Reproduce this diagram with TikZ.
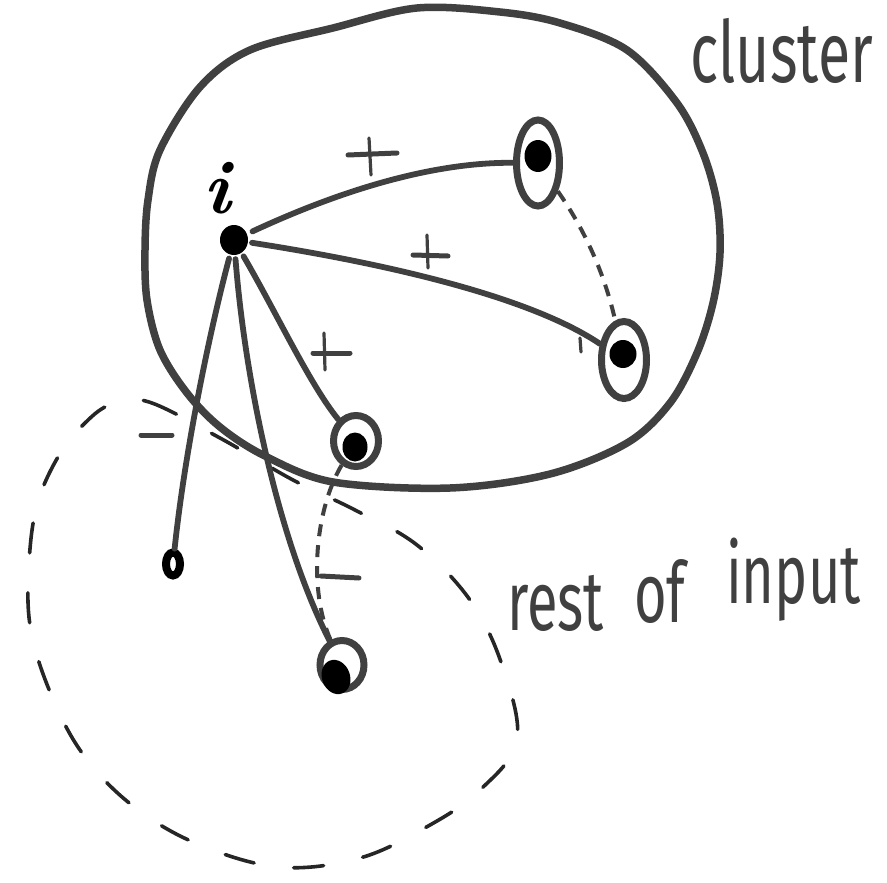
\documentclass[tikz,border=0pt]{standalone}
\usepackage{fontspec}
\newfontfamily\handfont{Fira Sans}
\usetikzlibrary{shapes.geometric}
\definecolor{ink}{gray}{0.25}
\begin{document}
\begin{tikzpicture}[x=1pt,y=-1pt,
  clusterline/.style={draw=ink, line width=7.5pt, line join=round},
  restline/.style={draw=black!85, line width=3.6pt, dash pattern=on 30pt off 40pt, line cap=round},
  edgeline/.style={draw=ink, line width=5.8pt, line cap=round},
  dashedge/.style={draw=ink, line width=4pt, dash pattern=on 12pt off 9pt},
  ringnode/.style={ellipse, draw=ink, line width=7pt, inner sep=0pt, fill=white},
  corenode/.style={ellipse, fill=black, inner sep=0pt},
  signline/.style={draw=ink, line width=5pt, line cap=round},
  thinsign/.style={draw=ink, line width=3.2pt, line cap=round},
  hand/.style={anchor=base west, inner sep=0pt, text=ink}]
\useasboundingbox (0,0) rectangle (887,883);

% rest of input (dashed region)
\draw[restline] plot[smooth cycle, tension=0.6] coordinates {
  (112,404) (149,402) (220,438) (293,480) (355,510) (417,545) (470,600)
  (502,665) (517,740) (480,790) (430,825) (360,858) (278,867) (193,842)
  (128,802) (80,750) (48,687) (30,625) (29,563) (37,505) (58,457) (85,423)};

% cluster
\draw[clusterline] plot[smooth cycle, tension=0.55] coordinates {
  (145,250) (147,300) (160,350) (187,393) (220,427) (265,456) (333,482)
  (450,488) (550,474) (627,443) (670,403) (697,353) (713,303) (720,253)
  (717,203) (703,153) (677,103) (627,50) (560,23) (500,12) (417,8)
  (333,28) (250,50) (200,87) (160,150) (148,200)};

% nodes
\node[corenode, minimum width=28pt, minimum height=30pt] (i) at (234,240) {};
\node[ringnode, minimum width=43pt, minimum height=86pt] (A) at (538,163) {};
\node[ringnode, minimum width=45pt, minimum height=77pt] (B) at (624,360) {};
\node[ringnode, minimum width=45pt, minimum height=51pt] (C) at (356,441) {};
\node[ringnode, minimum width=44pt, minimum height=49pt] (D) at (342,665) {};
\node[ellipse, draw=black, fill=white, line width=8pt, inner sep=0pt,
      minimum width=14pt, minimum height=23pt] (E) at (173,564) {};

% edges from i
\draw[edgeline, shorten <=6pt] (i) .. controls (320,200) and (420,162) .. (A);
\draw[edgeline, shorten <=4pt] (i) .. controls (350,258) and (520,290) .. (B);
\draw[edgeline, shorten <=4pt] (i) .. controls (275,310) and (310,385) .. (C);
\draw[edgeline, shorten <=4pt] (i) .. controls (245,380) and (278,540) .. (D);
\draw[edgeline, shorten <=4pt] (i) .. controls (210,330) and (185,450) .. (E);

% dashed edges
\draw[dashedge] (A) .. controls (585,230) and (605,275) .. (B);
\draw[dashedge] (C) .. controls (315,510) and (308,590) .. (D);

% filled cores on top of the edges
\node[corenode, minimum width=27pt, minimum height=32pt] (Acore) at (538,156) {};
\node[corenode, minimum width=27pt, minimum height=28pt] (Bcore) at (623,354) {};
\node[corenode, minimum width=25pt, minimum height=29pt] (Ccore) at (355,447) {};
\node[corenode, minimum width=28pt, minimum height=35pt, rotate=20] (Dcore) at (336,677) {};

% signs
\coordinate (p1a) at (348,155); \coordinate (p1b) at (397,153);
\coordinate (p1c) at (369,138); \coordinate (p1d) at (371,175);
\draw[signline] (p1a) -- (p1b); \draw[thinsign] (p1c) -- (p1d);
\coordinate (p2a) at (413,255); \coordinate (p2b) at (448,256);
\coordinate (p2c) at (427,235); \coordinate (p2d) at (428,268);
\draw[signline] (p2a) -- (p2b); \draw[thinsign] (p2c) -- (p2d);
\coordinate (p3a) at (313,353); \coordinate (p3b) at (350,353);
\coordinate (p3c) at (324,333); \coordinate (p3d) at (325,370);
\draw[signline] (p3a) -- (p3b); \draw[thinsign] (p3c) -- (p3d);
\coordinate (m1a) at (141,435); \coordinate (m1b) at (172,435);
\draw[signline] (m1a) -- (m1b);
\coordinate (m2a) at (321,576); \coordinate (m2b) at (359,578);
\draw[signline] (m2a) -- (m2b);
\coordinate (t1a) at (580,338); \coordinate (t1b) at (581,352);
\draw[thinsign] (t1a) -- (t1b);

% labels
\node[anchor=base, inner sep=0pt, font=\fontsize{76}{76}\selectfont\bfseries\itshape] (ilabel) at (217,213) {i};
\node[hand] (clusterlabel) at (690,83)
  {\scalebox{1}[1.45]{\handfont\fontsize{59}{59}\selectfont cluster}};
\node[hand] (restword) at (507,630)
  {\scalebox{1}[1.5]{\handfont\fontsize{56}{56}\selectfont rest}};
\node[hand] (ofword) at (634,622)
  {\scalebox{1}[1.5]{\handfont\fontsize{56}{56}\selectfont of}};
\node[hand] (inputword) at (726,603)
  {\scalebox{1}[1.5]{\handfont\fontsize{56}{56}\selectfont input}};
\end{tikzpicture}
\end{document}
